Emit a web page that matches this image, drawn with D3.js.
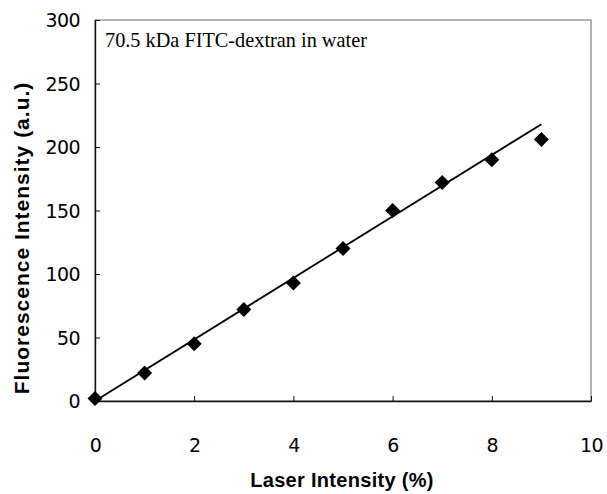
<!DOCTYPE html>
<html>
<head>
<meta charset="utf-8">
<script src="https://cdn.jsdelivr.net/npm/d3@7"></script>
<style>
  html, body { margin: 0; padding: 0; background: #fff; }
  svg { display: block; }
</style>
</head>
<body>
<svg id="chart" width="607" height="494"></svg>
<script>
const laserIntensity = [0, 1, 2, 3, 4, 5, 6, 7, 8, 9];
const fluorescence = [2, 22, 45, 72, 93, 120, 150, 172, 190, 206];
const fitX = [0, 9];
const fitY = [0, 218];
const xTicks = [0, 2, 4, 6, 8, 10];
const yTicks = [0, 50, 100, 150, 200, 250, 300];
const annotation = "70.5 kDa FITC-dextran in water";
const xTitle = "Laser Intensity (%)";
const yTitle = "Fluorescence Intensity (a.u.)";

const svg = d3.select("#chart");
const m = { left: 95, right: 16, top: 20, bottom: 93 };
const W = 607, H = 494;
const x = d3.scaleLinear().domain([0, 10]).range([m.left, W - m.right]);
const y = d3.scaleLinear().domain([0, 300]).range([H - m.bottom, m.top]);

// frame
svg.append("rect")
  .attr("x", x(0)).attr("y", y(300))
  .attr("width", x(10) - x(0)).attr("height", y(0) - y(300))
  .attr("fill", "none").attr("stroke", "#666").attr("stroke-width", 1);

// axes
const xAxis = d3.axisBottom(x).tickValues(xTicks).tickSizeInner(-5).tickSizeOuter(0).tickPadding(38);
const yAxis = d3.axisLeft(y).tickValues(yTicks).tickSizeInner(-5).tickSizeOuter(0).tickPadding(15);

const gx = svg.append("g").attr("transform", `translate(0,${y(0)})`).call(xAxis);
const gy = svg.append("g").attr("transform", `translate(${x(0)},0)`).call(yAxis);
[gx, gy].forEach(g => {
  g.select(".domain").attr("stroke", "#111").attr("stroke-width", 1.4);
  g.selectAll(".tick line").attr("stroke", "#111").attr("stroke-width", 1);
  g.selectAll(".tick text")
    .attr("font-family", "DejaVu Sans, sans-serif")
    .attr("font-size", 19).attr("fill", "#000")
    .attr("letter-spacing", -0.6);
});
gy.selectAll(".tick text").attr("dy", "0.36em");

// fit line
svg.append("line")
  .attr("x1", x(fitX[0])).attr("y1", y(fitY[0]))
  .attr("x2", x(fitX[1])).attr("y2", y(fitY[1]))
  .attr("stroke", "#000").attr("stroke-width", 1.8);

// diamonds
const r = 7.5;
svg.append("g").selectAll("path")
  .data(laserIntensity.map((d, i) => [d, fluorescence[i]]))
  .join("path")
  .attr("transform", d => `translate(${x(d[0])},${y(d[1])})`)
  .attr("d", `M0,${-r}L${r},0L0,${r}L${-r},0Z`)
  .attr("fill", "#000");

// annotation
svg.append("text")
  .attr("x", x(0) + 10).attr("y", 47)
  .attr("font-family", "Liberation Serif, Times New Roman, serif")
  .attr("font-size", 20.3).attr("fill", "#000")
  .text(annotation);

// axis titles
svg.append("text")
  .attr("x", 342).attr("y", 487)
  .attr("text-anchor", "middle")
  .attr("font-family", "Liberation Sans, Arial, sans-serif")
  .attr("font-weight", "bold").attr("font-size", 20)
  .attr("letter-spacing", 0.3)
  .text(xTitle);

svg.append("text")
  .attr("transform", `translate(29,238) rotate(-90)`)
  .attr("text-anchor", "middle")
  .attr("font-family", "Liberation Sans, Arial, sans-serif")
  .attr("font-weight", "bold").attr("font-size", 21)
  .attr("letter-spacing", 1.0)
  .text(yTitle);
</script>
</body>
</html>
